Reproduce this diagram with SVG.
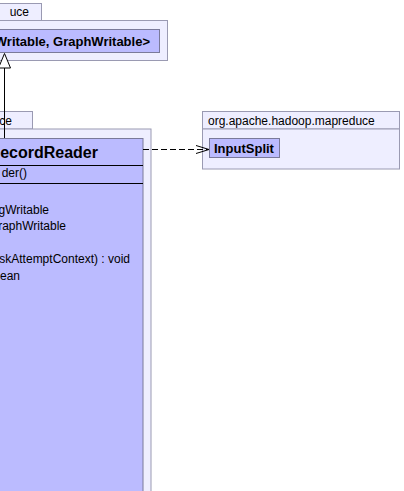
<svg xmlns="http://www.w3.org/2000/svg" width="404" height="491" viewBox="0 0 404 491">
<defs>
<style>
.pkg{fill:#EEEEFF;stroke:#9A9AB2;stroke-width:1}
.cls{fill:#BBBBFF;stroke:#7A7A9A;stroke-width:1}
.sep{stroke:#000;stroke-width:1}
text{font-family:"Liberation Sans",Arial,sans-serif;fill:#000}
.pt{font-size:12px}
.cn{font-size:13px;font-weight:bold}
.ct{font-size:16px;font-weight:bold}
.m{font-size:12px}
.edge{fill:none;stroke:#000;stroke-width:1}
</style>
<marker id="open" markerWidth="14" markerHeight="10" refX="13" refY="5" orient="auto" markerUnits="userSpaceOnUse">
<path d="M0,1 L13,5 L0,9" fill="none" stroke="#000" stroke-width="1"/>
</marker>
</defs>
<rect width="404" height="491" fill="#fff"/>
<g id="pkg-top">
<rect class="pkg" x="-1.5" y="3.5" width="43" height="17"/>
<rect class="pkg" x="-1.5" y="20.5" width="169" height="40"/>
<text class="pt" x="29" y="16" text-anchor="end">uce</text>
</g>
<g id="node-parent">
<rect class="cls" x="-1.5" y="29.5" width="161" height="23"/>
<text class="cn" x="150" y="46" text-anchor="end">Writable, GraphWritable&gt;</text>
</g>
<g id="pkg-main">
<rect class="pkg" x="-1.5" y="111.5" width="34" height="17.5"/>
<rect class="pkg" x="-1.5" y="129" width="152.5" height="370"/>
<text class="pt" x="12" y="125" text-anchor="end">ce</text>
</g>
<g id="node-reader">
<rect class="cls" x="-1.5" y="138.5" width="144.5" height="360"/>
<text class="ct" x="98" y="158" text-anchor="end">ecordReader</text>
<line class="sep" x1="-1" y1="165.5" x2="143" y2="165.5"/>
<text class="m" x="27" y="177" text-anchor="end">der()</text>
<line class="sep" x1="-1" y1="183.5" x2="143" y2="183.5"/>
<text class="m" x="49" y="214" text-anchor="end">gWritable</text>
<text class="m" x="66" y="230" text-anchor="end">raphWritable</text>
<text class="m" x="130" y="263" text-anchor="end">skAttemptContext) : void</text>
<text class="m" x="20" y="280" text-anchor="end">ean</text>
</g>
<g id="pkg-mapreduce">
<rect class="pkg" x="202.5" y="111.5" width="197" height="17.5"/>
<rect class="pkg" x="202.5" y="129" width="197" height="40"/>
<text class="pt" x="208" y="125">org.apache.hadoop.mapreduce</text>
</g>
<g id="node-inputsplit">
<rect class="cls" x="209.5" y="138.5" width="70" height="19"/>
<text class="cn" x="214" y="153">InputSplit</text>
</g>
<g id="connectors">
<line class="edge" x1="4.5" y1="68" x2="4.5" y2="138"/>
<path d="M4.5,53.5 L10.5,68 L-1.5,68 Z" fill="#fff" stroke="#000" stroke-width="1"/>
<line class="edge" x1="143" y1="149.5" x2="209" y2="149.5" stroke-dasharray="6,3" marker-end="url(#open)"/>
</g>
</svg>
